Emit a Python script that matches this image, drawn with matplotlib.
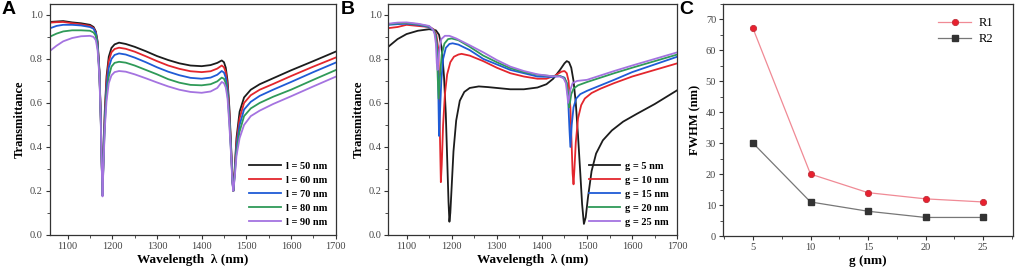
import matplotlib.pyplot as plt
from matplotlib.ticker import MultipleLocator, FormatStrFormatter

# ---- panel A : transmittance for different l ----
wl_a = [1060, 1075, 1090, 1110, 1130, 1150, 1158, 1163, 1167, 1171, 1174, 1176, 1178, 1180, 1183, 1187,
        1192, 1198, 1205, 1215, 1230, 1250, 1275, 1300, 1325, 1350, 1375, 1400, 1420, 1435, 1445, 1450,
        1454, 1458, 1462, 1466, 1469, 1471, 1474, 1478, 1485, 1495, 1510, 1530, 1560, 1600, 1650, 1700]
T_l50 = [0.968, 0.970, 0.972, 0.966, 0.962, 0.955, 0.945, 0.925, 0.88, 0.75, 0.55, 0.35, 0.18, 0.35, 0.56, 0.72,
         0.81, 0.85, 0.866, 0.874, 0.868, 0.855, 0.835, 0.813, 0.795, 0.78, 0.77, 0.767, 0.772, 0.782, 0.793, 0.785,
         0.76, 0.70, 0.58, 0.40, 0.25, 0.20, 0.30, 0.44, 0.56, 0.625, 0.66, 0.685, 0.712, 0.748, 0.79, 0.833]
T_l60 = [0.965, 0.967, 0.968, 0.962, 0.957, 0.950, 0.940, 0.920, 0.87, 0.74, 0.54, 0.34, 0.18, 0.34, 0.54, 0.70,
         0.79, 0.83, 0.845, 0.851, 0.846, 0.833, 0.812, 0.790, 0.770, 0.755, 0.744, 0.740, 0.744, 0.756, 0.770, 0.762,
         0.74, 0.68, 0.56, 0.39, 0.25, 0.20, 0.29, 0.42, 0.53, 0.60, 0.635, 0.66, 0.686, 0.722, 0.765, 0.806]
T_l70 = [0.939, 0.950, 0.955, 0.955, 0.952, 0.945, 0.937, 0.917, 0.865, 0.74, 0.54, 0.34, 0.18, 0.33, 0.52, 0.67,
         0.76, 0.80, 0.818, 0.825, 0.820, 0.806, 0.785, 0.762, 0.742, 0.726, 0.714, 0.710, 0.715, 0.728, 0.745, 0.738,
         0.715, 0.66, 0.54, 0.38, 0.24, 0.20, 0.28, 0.40, 0.50, 0.57, 0.605, 0.632, 0.66, 0.695, 0.74, 0.783]
T_l80 = [0.901, 0.915, 0.925, 0.93, 0.93, 0.928, 0.92, 0.905, 0.855, 0.73, 0.53, 0.33, 0.18, 0.32, 0.50, 0.64,
         0.72, 0.765, 0.782, 0.787, 0.783, 0.770, 0.750, 0.730, 0.708, 0.692, 0.682, 0.680, 0.685, 0.698, 0.715, 0.71,
         0.69, 0.64, 0.52, 0.37, 0.24, 0.20, 0.27, 0.38, 0.47, 0.54, 0.575, 0.60, 0.628, 0.66, 0.705, 0.749]
T_l90 = [0.836, 0.86, 0.88, 0.895, 0.903, 0.905, 0.90, 0.885, 0.84, 0.72, 0.52, 0.33, 0.175, 0.31, 0.48, 0.61,
         0.69, 0.725, 0.740, 0.745, 0.742, 0.730, 0.712, 0.693, 0.675, 0.660, 0.650, 0.646, 0.652, 0.668, 0.695, 0.69,
         0.67, 0.62, 0.50, 0.36, 0.23, 0.20, 0.26, 0.36, 0.44, 0.50, 0.54, 0.565, 0.595, 0.63, 0.675, 0.719]
labels_a = ['l = 50 nm', 'l = 60 nm', 'l = 70 nm', 'l = 80 nm', 'l = 90 nm']

# ---- panel B : transmittance for different g ----
wl_g5 = [1060, 1080, 1100, 1125, 1150, 1165, 1172, 1178, 1183, 1187, 1190, 1193, 1195, 1197, 1200, 1204, 1210,
         1218, 1228, 1240, 1260, 1280, 1300, 1330, 1360, 1390, 1410, 1425, 1440, 1450, 1455, 1460, 1465, 1470,
         1475, 1480, 1485, 1489, 1493, 1497, 1502, 1510, 1520, 1535, 1555, 1580, 1610, 1650, 1700]
T_g5 = [0.856, 0.89, 0.913, 0.928, 0.935, 0.93, 0.91, 0.85, 0.72, 0.55, 0.35, 0.15, 0.06, 0.10, 0.22, 0.38, 0.52,
        0.61, 0.65, 0.668, 0.675, 0.672, 0.668, 0.662, 0.662, 0.67, 0.685, 0.71, 0.75, 0.78, 0.79, 0.785, 0.76, 0.70,
        0.60, 0.45, 0.28, 0.14, 0.05, 0.08, 0.17, 0.29, 0.37, 0.43, 0.475, 0.515, 0.55, 0.595, 0.658]
wl_g10 = [1060, 1080, 1100, 1125, 1150, 1160, 1166, 1170, 1172, 1174, 1176, 1178, 1181, 1185, 1190, 1197, 1205,
          1215, 1222, 1240, 1270, 1300, 1330, 1360, 1390, 1410, 1430, 1443, 1450, 1455, 1459, 1463, 1466, 1468,
          1470, 1472, 1475, 1480, 1487, 1495, 1510, 1530, 1560, 1600, 1650, 1700]
T_g10 = [0.94, 0.945, 0.955, 0.95, 0.945, 0.935, 0.91, 0.85, 0.72, 0.45, 0.24, 0.32, 0.50, 0.64, 0.73, 0.785, 0.81,
         0.82, 0.823, 0.815, 0.79, 0.76, 0.735, 0.72, 0.71, 0.71, 0.725, 0.742, 0.745, 0.735, 0.70, 0.58, 0.40, 0.28,
         0.23, 0.30, 0.42, 0.53, 0.59, 0.62, 0.645, 0.665, 0.69, 0.72, 0.75, 0.78]
wl_g15 = [1060, 1080, 1100, 1125, 1150, 1160, 1165, 1168, 1170, 1172, 1174, 1177, 1181, 1187, 1195, 1202, 1215,
          1240, 1270, 1300, 1330, 1360, 1390, 1420, 1440, 1450, 1455, 1458, 1461, 1463, 1466, 1470, 1476, 1485,
          1500, 1530, 1560, 1600, 1650, 1700]
T_g15 = [0.955, 0.958, 0.96, 0.955, 0.945, 0.93, 0.905, 0.85, 0.70, 0.45, 0.55, 0.70, 0.80, 0.85, 0.868, 0.871, 0.865,
         0.84, 0.80, 0.775, 0.75, 0.735, 0.72, 0.718, 0.722, 0.715, 0.69, 0.62, 0.48, 0.40, 0.50, 0.58, 0.62, 0.64,
         0.655, 0.68, 0.705, 0.74, 0.775, 0.81]
wl_g20 = [1060, 1080, 1100, 1125, 1150, 1160, 1164, 1167, 1169, 1171, 1174, 1178, 1184, 1192, 1200, 1215, 1240,
          1270, 1300, 1330, 1360, 1390, 1420, 1440, 1450, 1455, 1458, 1460, 1462, 1465, 1470, 1480, 1500, 1530,
          1560, 1600, 1650, 1700]
T_g20 = [0.958, 0.962, 0.963, 0.958, 0.948, 0.932, 0.91, 0.86, 0.72, 0.62, 0.72, 0.82, 0.87, 0.89, 0.893, 0.885, 0.855,
         0.815, 0.785, 0.758, 0.74, 0.728, 0.722, 0.722, 0.712, 0.69, 0.64, 0.58, 0.60, 0.64, 0.665, 0.68, 0.695, 0.715,
         0.735, 0.76, 0.79, 0.82]
wl_g25 = [1060, 1080, 1100, 1125, 1150, 1158, 1162, 1165, 1167, 1169, 1172, 1177, 1185, 1195, 1210, 1240, 1270,
          1300, 1330, 1360, 1390, 1420, 1440, 1448, 1453, 1456, 1458, 1460, 1463, 1468, 1478, 1500, 1530, 1560,
          1600, 1650, 1700]
T_g25 = [0.96, 0.965, 0.966, 0.96, 0.95, 0.935, 0.915, 0.87, 0.78, 0.75, 0.83, 0.89, 0.905, 0.905, 0.893, 0.862, 0.83,
         0.795, 0.765, 0.745, 0.73, 0.722, 0.72, 0.712, 0.69, 0.64, 0.60, 0.62, 0.66, 0.69, 0.70, 0.705, 0.725, 0.745,
         0.77, 0.80, 0.83]
labels_b = ['g = 5 nm', 'g = 10 nm', 'g = 15 nm', 'g = 20 nm', 'g = 25 nm']

# ---- panel C : FWHM vs g ----
g_nm = [5, 10, 15, 20, 25]
R1 = [67, 20, 14, 12, 11]
R2 = [30, 11, 8, 6, 6]

colors = ['#1c1c1c', '#e3262d', '#1f5bd6', '#2f9a58', '#a473e0']
serif = 'Liberation Serif'

fig = plt.figure(figsize=(10.17, 2.8), dpi=100)
ax_a = fig.add_axes([0.049, 0.161, 0.281, 0.825])
ax_b = fig.add_axes([0.382, 0.161, 0.284, 0.825])
ax_c = fig.add_axes([0.711, 0.157, 0.285, 0.830])


def style_axes(ax):
    for s in ax.spines.values():
        s.set_linewidth(0.9)
        s.set_color('#333333')
    ax.tick_params(which='major', direction='out', length=3, width=0.8, labelsize=7.5, colors='#333333',
                   labelcolor='#444444', pad=2)
    ax.tick_params(which='minor', direction='out', length=2, width=0.6, colors='#333333')
    for t in ax.get_xticklabels() + ax.get_yticklabels():
        t.set_fontfamily(serif)


# panel A
for T, c, lab in zip([T_l50, T_l60, T_l70, T_l80, T_l90], colors, labels_a):
    ax_a.plot(wl_a, T, color=c, lw=1.3, label=lab)
ax_a.set_xlim(1060, 1700)
ax_a.set_ylim(0, 1.05)

# panel B
for wl, T, c, lab in zip([wl_g5, wl_g10, wl_g15, wl_g20, wl_g25], [T_g5, T_g10, T_g15, T_g20, T_g25],
                         colors, labels_b):
    ax_b.plot(wl, T, color=c, lw=1.3, label=lab)
ax_b.set_xlim(1060, 1700)
ax_b.set_ylim(0, 1.05)

for ax in [ax_a, ax_b]:
    ax.xaxis.set_major_locator(MultipleLocator(100))
    ax.xaxis.set_minor_locator(MultipleLocator(50))
    ax.yaxis.set_major_locator(MultipleLocator(0.2))
    ax.yaxis.set_minor_locator(MultipleLocator(0.1))
    ax.yaxis.set_major_formatter(FormatStrFormatter('%.1f'))
    style_axes(ax)
    ax.set_xlabel('Wavelength  λ (nm)', family=serif, fontweight='bold', fontsize=9.5, labelpad=2)
    ax.set_ylabel('Transmittance', family=serif, fontweight='bold', fontsize=9, labelpad=3)
    ax.legend(loc='lower right', frameon=False, handlelength=3.0, handletextpad=0.5,
              labelspacing=0.45, borderaxespad=0.4,
              prop={'family': serif, 'weight': 'bold', 'size': 7.5})

# panel C
ax_c.plot(g_nm, R1, color='#f08a95', lw=0.9, marker='o', ms=4.5, mfc='#e8202f', mec='#c0303a', mew=0.6, label='R1')
ax_c.plot(g_nm, R2, color='#777777', lw=0.9, marker='s', ms=4, mfc='#333333', mec='#333333', label='R2')
ax_c.set_xlim(2.4, 27.6)
ax_c.set_ylim(0, 75)
ax_c.xaxis.set_major_locator(MultipleLocator(5))
ax_c.xaxis.set_minor_locator(MultipleLocator(2.5))
ax_c.yaxis.set_major_locator(MultipleLocator(10))
ax_c.yaxis.set_minor_locator(MultipleLocator(5))
style_axes(ax_c)
ax_c.set_xlabel('g (nm)', family=serif, fontweight='bold', fontsize=9.5, labelpad=2)
ax_c.set_ylabel('FWHM (nm)', family=serif, fontweight='bold', fontsize=9, labelpad=3)
ax_c.legend(loc='upper right', frameon=False, handlelength=2.6, handletextpad=0.6, labelspacing=0.3,
            bbox_to_anchor=(0.97, 0.99), prop={'family': serif, 'size': 9})

# panel letters
for x, letter in [(0.001, 'A'), (0.335, 'B'), (0.668, 'C')]:
    fig.text(x, 0.997, letter, family='Liberation Sans', fontweight='bold', fontsize=14, va='top', ha='left')

fig.savefig('out.png', dpi=100)
